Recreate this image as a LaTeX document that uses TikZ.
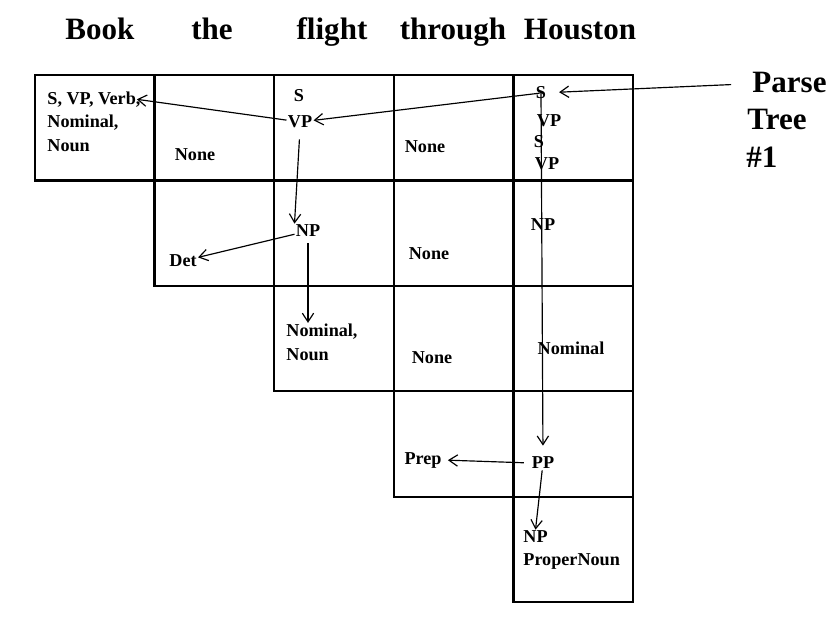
\documentclass[tikz,border=0pt]{standalone}
\usepackage{fontspec}
\setmainfont{Liberation Serif}
\usetikzlibrary{arrows.meta, positioning}

\begin{document}
\begin{tikzpicture}[
    x=0.03cm, y=-0.03cm,
    node distance=0pt,
    cell/.style={rectangle, draw, line width=1.9pt, minimum width=3.588cm, minimum height=3.162cm, inner sep=0pt, outer sep=0pt},
    word/.style={font=\bfseries\fontsize{26.5}{32}\selectfont, inner sep=1pt},
    lbl/.style={font=\bfseries\fontsize{15.5}{18}\selectfont, inner sep=1pt},
    arrow/.style={-{Straight Barb[length=2.6mm, width=3.4mm]}, line width=1pt}
]
\useasboundingbox (0,0) rectangle (837,620);

% words of the sentence
\node[word, anchor=base] (book) at (100,40) {Book};
\node[word, anchor=base] (the) at (212,40) {the};
\node[word, anchor=base] (flight) at (332,40) {flight};
\node[word, anchor=base] (through) at (453,40) {through};
\node[word, anchor=base] (houston) at (580,40) {Houston};

% chart cells
\node[cell, anchor=north west] (c00) at (35,75) {};
\node[cell, right=of c00] (c01) {};
\node[cell, right=of c01] (c02) {};
\node[cell, right=of c02] (c03) {};
\node[cell, right=of c03] (c04) {};

\node[cell, below=of c01] (c11) {};
\node[cell, right=of c11] (c12) {};
\node[cell, right=of c12] (c13) {};
\node[cell, right=of c13] (c14) {};

\node[cell, below=of c12] (c22) {};
\node[cell, right=of c22] (c23) {};
\node[cell, right=of c23] (c24) {};

\node[cell, below=of c23] (c33) {};
\node[cell, right=of c33] (c34) {};

\node[cell, below=of c34] (c44) {};

% cell entries
\node[lbl, anchor=west] (verbs) at (46,100) {S, VP, Verb,};
\node[lbl, anchor=west] (nominalA) at (46,123) {Nominal,};
\node[lbl, anchor=west] (nounA) at (46,146) {Noun};
\node[lbl] (none01) at (195,155) {None};
\node[lbl] (sA) at (299,96) {S};
\node[lbl] (vpA) at (300,122) {VP};
\node[lbl] (none03) at (425,147) {None};
\node[lbl] (sB) at (541,93) {S};
\node[lbl] (vpB) at (549,121) {VP};
\node[lbl] (sC) at (539,142) {S};
\node[lbl] (vpC) at (547,164) {VP};

\node[lbl] (det) at (183,261) {Det};
\node[lbl] (npA) at (308,231) {NP};
\node[lbl] (none13) at (429,254) {None};
\node[lbl] (npB) at (543,225) {NP};

\node[lbl, anchor=west] (nominalB) at (285,332) {Nominal,};
\node[lbl, anchor=west] (nounB) at (285,355) {Noun};
\node[lbl] (none23) at (432,358) {None};
\node[lbl] (nominalC) at (571,348) {Nominal};

\node[lbl] (prep) at (423,460) {Prep};
\node[lbl] (pp) at (543,463) {PP};

\node[lbl, anchor=west] (npC) at (522,537) {NP};
\node[lbl, anchor=west] (propernoun) at (522,561) {ProperNoun};

% label on the right
\node[word, anchor=west] (parse) at (751,82) {Parse};
\node[word, anchor=west] (tree) at (746,119) {Tree};
\node[word, anchor=west] (num) at (745,157) {\#1};

% parse tree
\draw[arrow, shorten <=0.6cm, shorten >=0.35cm] (parse) -- (sB);
\draw[arrow, shorten <=-0.15cm] (sB) -- (vpA);
\draw[arrow, shorten >=-0.15cm] (vpA) -- (verbs.east);
\draw[arrow, shorten <=0.3cm] (vpA.south) -- (npA.north west);
\draw[arrow] (npA) -- (det);
\draw[arrow, shorten <=0.15cm] (npA.south) -- (npA.south |- nominalB.north);
\draw[arrow, shorten >=0.3cm] (sB.center) -- (pp.north);
\draw[arrow, shorten <=0.2cm, shorten >=0.15cm] (pp.west) -- (prep.east);
\draw[arrow] (pp) -- (npC.north);

\end{tikzpicture}
\end{document}
